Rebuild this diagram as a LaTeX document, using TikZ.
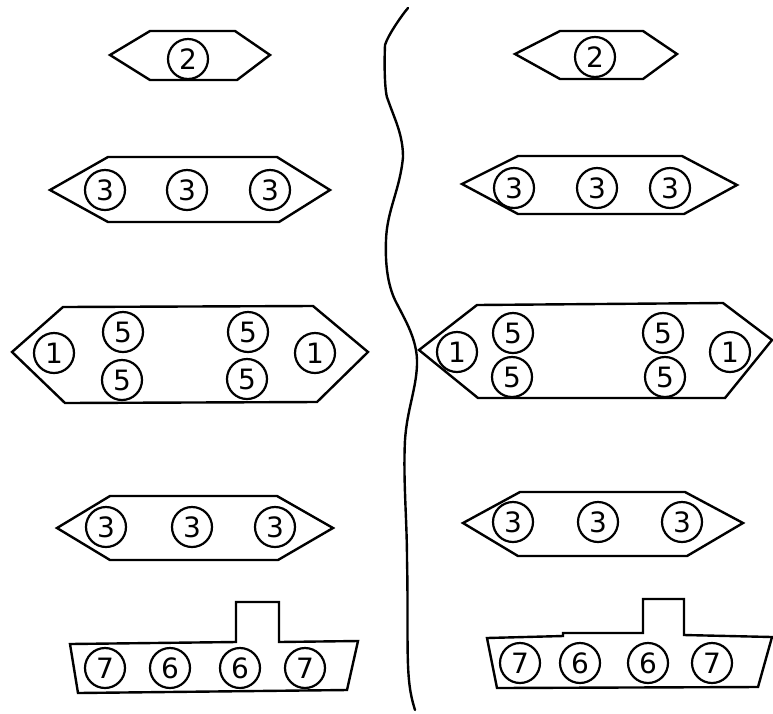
\documentclass[tikz,border=0pt]{standalone}
\usepackage{fontspec}
\setmainfont{DejaVu Sans}
\tikzset{
  hull/.style={draw=black, line width=2.4pt, line join=miter},
  gun/.style={circle, draw=black, line width=2.2pt, minimum size=40pt, inner sep=0pt, font=\fontsize{28}{28}\selectfont},
  divider/.style={draw=black, line width=2.4pt, line cap=round}
}
\begin{document}
\begin{tikzpicture}[x=1pt,y=-1pt]
\useasboundingbox[fill=white] (0,0) rectangle (773,713);

% ---------- left column ----------
\draw[hull] (110,55) -- (150,31) -- (235,31) -- (270,55) -- (237,80) -- (150,80) -- cycle;
\node[gun] (L1a) at (188,59) {2};

\draw[hull] (50,190) -- (108,157) -- (277,157) -- (330,190) -- (279,222) -- (108,222) -- cycle;
\node[gun] (L2a) at (105,190) {3};
\node[gun] (L2b) at (187,190) {3};
\node[gun] (L2c) at (270,190) {3};

\draw[hull] (12,352) -- (63,307) -- (313,306) -- (368,352) -- (317,402) -- (65,403) -- cycle;
\node[gun] (L3a) at (54,353) {1};
\node[gun] (L3b) at (123,332) {5};
\node[gun] (L3c) at (122,380) {5};
\node[gun] (L3d) at (248,332) {5};
\node[gun] (L3e) at (247,379) {5};
\node[gun] (L3f) at (315,353) {1};

\draw[hull] (57,528) -- (110,496) -- (277,496) -- (333,528) -- (278,560) -- (110,560) -- cycle;
\node[gun] (L4a) at (106,527) {3};
\node[gun] (L4b) at (192,527) {3};
\node[gun] (L4c) at (275,527) {3};

\draw[hull] (70,644) -- (236,642) -- (236,602) -- (279,602) -- (279,642) -- (358,641) -- (347,690) -- (78,693) -- cycle;
\node[gun] (L5a) at (105,668) {7};
\node[gun] (L5b) at (170,668) {6};
\node[gun] (L5c) at (240,668) {6};
\node[gun] (L5d) at (305,668) {7};

% ---------- divider ----------
\draw[divider] (408,8) .. controls (402,15) and (388,35) .. (385,45)
  .. controls (384,70) and (385,95) .. (388,100)
  .. controls (395,120) and (403,135) .. (403,157)
  .. controls (400,190) and (387,210) .. (386,240)
  .. controls (385,265) and (388,285) .. (395,300)
  .. controls (405,320) and (418,340) .. (417,365)
  .. controls (416,390) and (407,410) .. (405,440)
  .. controls (403,480) and (407,520) .. (407,560)
  .. controls (408,600) and (407,640) .. (408,665)
  .. controls (409,690) and (412,700) .. (415,710);

% ---------- right column ----------
\draw[hull] (515,54) -- (560,31) -- (643,31) -- (677,54) -- (643,79) -- (560,79) -- cycle;
\node[gun] (R1a) at (595,57) {2};

\draw[hull] (462,184) -- (518,156) -- (682,156) -- (737,185) -- (684,214) -- (518,214) -- cycle;
\node[gun] (R2a) at (514,188) {3};
\node[gun] (R2b) at (597,188) {3};
\node[gun] (R2c) at (670,188) {3};

\draw[hull] (419,350) -- (477,305) -- (723,303) -- (772,340) -- (725,398) -- (478,398) -- cycle;
\node[gun] (R3a) at (457,352) {1};
\node[gun] (R3b) at (513,333) {5};
\node[gun] (R3c) at (512,377) {5};
\node[gun] (R3d) at (663,333) {5};
\node[gun] (R3e) at (665,377) {5};
\node[gun] (R3f) at (730,352) {1};

\draw[hull] (463,523) -- (520,492) -- (685,492) -- (743,523) -- (687,556) -- (518,556) -- cycle;
\node[gun] (R4a) at (513,522) {3};
\node[gun] (R4b) at (598,522) {3};
\node[gun] (R4c) at (682,522) {3};

\draw[hull] (487,638) -- (563,636) -- (563,633) -- (643,633) -- (643,599) -- (684,599) -- (684,635) -- (772,637) -- (758,687) -- (497,688) -- cycle;
\node[gun] (R5a) at (520,663) {7};
\node[gun] (R5b) at (580,663) {6};
\node[gun] (R5c) at (648,663) {6};
\node[gun] (R5d) at (712,663) {7};
\end{tikzpicture}
\end{document}
